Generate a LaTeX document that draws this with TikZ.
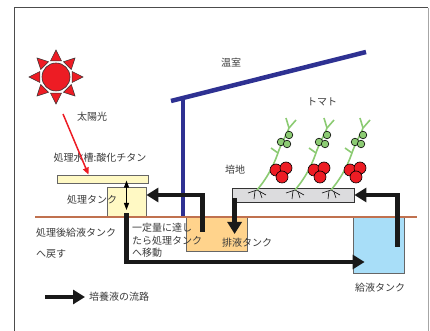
\documentclass[tikz,border=0pt]{standalone}
\usepackage{fontspec}
\newfontfamily\jp{Noto Sans CJK JP}
\usepackage{tikz}
\usetikzlibrary{arrows.meta,calc}
\definecolor{roofblue}{HTML}{2E3192}
\definecolor{soil}{HTML}{C0714F}
\definecolor{tankyel}{HTML}{FFF9C4}
\definecolor{tankorg}{HTML}{FFD38C}
\definecolor{tankblu}{HTML}{A8DEF8}
\definecolor{bedgray}{HTML}{DCDCDE}
\definecolor{tomred}{HTML}{ED1C24}
\definecolor{leafgrn}{HTML}{8CCB73}
\definecolor{txtgray}{HTML}{3A3A3A}

% one tomato plant, base at #1 (roots go into the bed)
\newcommand{\tomatoplant}[1]{%
  \begin{scope}[shift={#1}]
    \draw[root] (-9,-3) .. controls (-5,-2) .. (0,0) .. controls (4,-3) .. (9,-5);
    \draw[root] (-2,-1) -- (-3,-9);
    \draw[root] (3,-2) -- (5,-8);
    \draw[stemline] (0,0) .. controls (12,14) and (18,28) .. (22,40)
                          .. controls (26,50) and (30,56) .. (32,62);
    \draw[stemline] (32,62) -- (29,72);
    \draw[stemline] (32,62) -- (39,70);
    \draw[stemline] (21,37) -- (14,42);
    \foreach \p in {(24,48),(32,55),(30,46)} \draw[greenfruit] \p circle (3.8pt);
    \foreach \p in {(19,20),(29,22),(25,13)} \draw[redfruit] \p circle (6pt);
  \end{scope}}

\begin{document}
\begin{tikzpicture}[
      x=1pt, y=1pt,
      lbl/.style        = {font=\jp\fontsize{10}{12.5}\selectfont, text=txtgray, inner sep=0pt},
      tank/.style       = {draw=black!60, line width=0.8pt, inner sep=0pt},
      flow/.style       = {line width=4.5pt, draw=black!90, -{Triangle[length=12pt, width=14pt]}},
      dbl/.style        = {line width=1pt, {Triangle[length=7pt, width=5pt]}-{Triangle[length=7pt, width=5pt]}},
      ray/.style        = {fill=tomred, draw=black!80, line width=0.5pt},
      root/.style       = {draw=black, line width=0.6pt},
      stemline/.style   = {draw=leafgrn, line width=1.6pt},
      greenfruit/.style = {fill=leafgrn, draw=black, line width=0.6pt},
      redfruit/.style   = {fill=tomred, draw=black, line width=0.6pt},
    ]
    \useasboundingbox (0,0) rectangle (430,331);

    % ---- frame ----
    \draw[black!70, line width=1pt] (14,0) -- (14,323) -- (428,323);
    \draw[black!35, line width=0.8pt] (428,323) -- (428,0);

    % ---- sun ----
    \node[circle, fill=tomred, draw=black!80, line width=0.6pt,
          minimum size=28pt, inner sep=0pt] (sun) at (56,254) {};
    \foreach \a in {0,45,...,315}
      \draw[ray] ($(sun.center)+(\a-19:17pt)$) -- ($(sun.center)+(\a:27pt)$)
                 -- ($(sun.center)+(\a+19:17pt)$) -- cycle;
    \node[lbl] (sunlbl) at (92,214) {太陽光};

    % ---- greenhouse ----
    \draw[roofblue, line width=4.5pt] (183,232) -- (183,114);
    \draw[roofblue, line width=4.5pt] (171,230) -- (366,279);
    \node[lbl] (house) at (231,268) {温室};

    % ---- tanks and bed ----
    \node[tank, fill=tankyel, minimum width=91pt, minimum height=8pt] (plate) at (102.5,152) {};
    \node[lbl] (platelbl) at (100,173) {処理水槽:酸化チタン};
    \node[tank, fill=tankyel, minimum width=39pt, minimum height=30pt] (treat) at (126.5,129) {};
    \node[lbl] (treatlbl) at (92,131) {処理タンク};
    \node[tank, fill=tankorg, minimum width=61pt, minimum height=34pt] (drain) at (216.5,97) {};
    \node[tank, fill=tankblu, minimum width=51pt, minimum height=56pt] (supply) at (378.5,86) {};
    \node[tank, draw=black!80, fill=bedgray, minimum width=122pt, minimum height=14pt] (bed) at (293,136) {};

    % ground
    \draw[soil, line width=2pt] (35,114) -- (417,114);

    % ---- plants ----
    \tomatoplant{(257,141)}
    \tomatoplant{(295,141)}
    \tomatoplant{(331,141)}
    \node[lbl] (tomato) at (322,229) {トマト};
    \node[lbl] (bedlbl) at (235,161) {培地};

    % ---- flow of nutrient solution ----
    \draw[tomred, line width=1.5pt, -{Triangle[length=7pt, width=6pt]}]
      ($(sun.center)+(7,-37)$) -- ([xshift=-14pt]plate.north);
    \draw[flow] ($(supply.north east)+(-7,-30)$) |- (bed.east);
    \draw[flow] ([xshift=3pt,yshift=-3pt]bed.west) -- ([xshift=3pt]bed.west |- drain.center);
    \draw[flow] ($(drain.north west)+(17,-15)$) |- ([yshift=7pt]treat.east);
    \draw[flow] ([yshift=4pt]treat.south) |- ($(supply.west)+(12,-17)$);
    \draw[dbl] ([yshift=6pt]treat.north) -- ([yshift=-8pt]treat.center);

    % ---- labels ----
    \node[lbl] (drainlbl) at (247,88) {排液タンク};
    \node[lbl] (supplylbl) at (380,43) {給液タンク};
    \node[lbl, anchor=north west, align=left] (moveto) at (132,108)
      {一定量に達し\\たら処理タンク\\へ移動};
    \node[lbl, anchor=west] (backlbl) at (36,98) {処理後給液タンク};
    \node[lbl, anchor=west] (backlbl2) at (36,77) {へ戻す};

    % legend
    \node[lbl, anchor=west] (legend) at (89,34) {培養液の流路};
    \draw[flow] ([xshift=-44pt]legend.west) -- ([xshift=-4pt]legend.west);
  \end{tikzpicture}
\end{document}
